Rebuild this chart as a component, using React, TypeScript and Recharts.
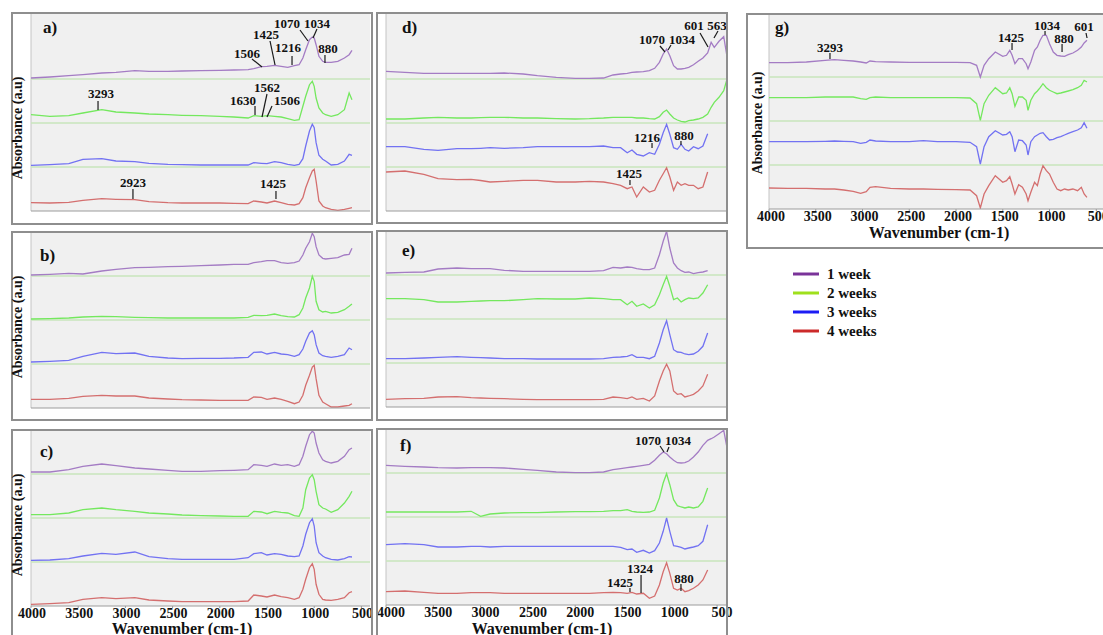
import React from 'react'
import { LineChart, Line, XAxis, YAxis, CartesianGrid, ReferenceLine, ReferenceDot } from 'recharts'

// wavenumber grids (cm-1) the spectra were read on
const WN_ABC = [4000, 3800, 3600, 3450, 3250, 3100, 2900, 2750, 2550, 2400, 2200, 2000, 1850, 1700, 1640, 1560, 1500, 1420, 1350, 1280, 1210, 1160, 1120, 1090, 1050, 1020, 1000, 980, 950, 910, 880, 820, 750, 680, 630, 600]
const WN_DEF = [4000, 3800, 3600, 3450, 3250, 3100, 3000, 2900, 2750, 2550, 2400, 2200, 2000, 1850, 1700, 1600, 1520, 1450, 1400, 1350, 1280, 1216, 1160, 1110, 1070, 1034, 1000, 960, 920, 880, 840, 800, 750, 700, 650, 600, 563, 530, 480, 430, 400]
const WN_G = [4000, 3800, 3600, 3400, 3300, 3200, 3100, 3020, 2960, 2920, 2860, 2700, 2500, 2350, 2200, 2000, 1850, 1780, 1740, 1700, 1650, 1580, 1500, 1460, 1425, 1400, 1370, 1330, 1290, 1250, 1230, 1200, 1160, 1130, 1100, 1070, 1034, 1000, 960, 920, 880, 840, 800, 750, 700, 660, 630, 600]

// absorbance (a.u.), each trace measured from the bottom of its own strip
const A_1W = [1, 2, 3.3, 4.3, 6, 6.7, 8.3, 7.7, 7.7, 8, 8.3, 8.7, 9, 9.3, 10.3, 12.3, 12.7, 13.7, 12.7, 11.7, 13.3, 14.3, 21, 29.3, 39.3, 42, 41, 34.3, 22.7, 17.7, 16.7, 16.7, 17.7, 21, 24.3, 28.7]
const A_2W = [8.3, 6.7, 7.3, 10, 13.3, 11, 10, 9, 8.3, 7.7, 7.3, 6.7, 6, 5, 7.3, 6.7, 7.3, 6.7, 6, 4.3, 2.7, 3.3, 16.7, 26.7, 38.3, 41.7, 36.7, 25, 15, 10, 8.3, 6.7, 8.3, 13.3, 30, 23.3]
const A_3W = [1.7, 2.3, 3.3, 7.7, 8.3, 6, 5.3, 3.7, 2.7, 2.3, 2, 2, 2, 2, 4.3, 3.7, 3.3, 5.3, 4.3, 2.7, 1.7, 2.7, 8.3, 21, 36, 42.7, 39.3, 24.3, 11.7, 7.7, 6, 2, 2.7, 6, 12.7, 11.7]
const A_4W = [8.3, 8, 8.7, 10.7, 12.3, 11.7, 11.3, 9.3, 8.3, 8, 8, 8, 7.7, 7.3, 10, 9, 8, 10, 8.3, 6.7, 6, 7.3, 13.3, 23.3, 33.3, 40, 41.7, 30, 10, 5, 3.3, 1.7, 0.7, 1.7, 2.7, 3.3]

const B_1W = [1, 1.7, 2.7, 2, 5, 6.7, 8.3, 8.7, 9.3, 9.7, 10.3, 11, 11.7, 11.7, 13.3, 14.3, 15.3, 15.3, 13.3, 12.7, 13.3, 15, 21, 27.7, 34.3, 42.7, 39.3, 29.3, 21, 17.7, 17, 17.7, 18.3, 21, 21.7, 27.7]
const B_2W = [1, 1.3, 2, 3, 3.7, 3.3, 2.7, 2.3, 2, 2, 2, 2, 2, 2.7, 4.7, 4.3, 4.7, 6, 4.3, 3.3, 3, 5.3, 12, 22, 32, 43.7, 38.7, 18.7, 10.3, 8, 8.7, 7, 7.7, 10.3, 13.7, 16]
const B_3W = [2, 2.7, 3.7, 7.7, 11.7, 10.3, 11, 7.7, 6, 5.3, 5.7, 5.7, 6, 6.7, 11.7, 12, 10, 11.7, 10, 9.3, 7.7, 9.3, 15, 22.7, 31, 33.3, 29.3, 19.3, 11, 8.3, 7.7, 6.7, 7.7, 9.3, 16, 14.3]
const B_4W = [8.7, 8.7, 9.7, 11.7, 12.7, 12, 12, 10, 9, 8.3, 8, 7.7, 7.7, 7.7, 11, 10.7, 8.7, 10, 8.7, 6.7, 4.3, 6, 12.7, 22.7, 32.7, 41, 42.7, 29.3, 12.7, 6, 4.3, 1, 1, 2, 2.7, 4.3]

const C_1W = [2, 2, 4.3, 7.7, 10, 8.3, 6, 5, 3.7, 2.7, 2.7, 3.3, 3.7, 4.3, 9.3, 8.7, 7.7, 10, 8.7, 9.3, 7.7, 9.3, 17.7, 27.7, 39.3, 42.7, 41, 31, 21, 14.3, 12.7, 11, 12.7, 17.7, 24.3, 26]
const C_2W = [3.3, 3.3, 5, 8.3, 10, 8.3, 6.7, 5, 4, 3, 2.3, 2, 1.7, 1.7, 6.7, 6, 4.3, 6.7, 5.7, 5, 2.3, 1.7, 10, 28.3, 40, 43.3, 38.3, 26.7, 13.3, 10, 9, 5.7, 8.3, 15, 21.7, 26.7]
const C_3W = [1.7, 2, 3.3, 6, 8.7, 7.7, 10, 5.3, 3.3, 2.7, 2.7, 2.7, 2.7, 4.3, 8.3, 9.3, 7, 8.3, 7.7, 6, 5.3, 6, 16, 27.7, 39.3, 43.3, 36, 19.3, 9.3, 6, 4.3, 2.7, 2, 3.3, 5.3, 5]
const C_4W = [1.7, 2.3, 3.3, 6.7, 8.3, 7.3, 8.3, 6, 5, 4.3, 4.3, 4.3, 4.3, 5, 11, 10, 9, 11, 9.3, 8.3, 6.7, 8.3, 16.7, 26.7, 38.3, 42.3, 36.7, 21.7, 11.7, 6.7, 6, 5.7, 6.7, 8.3, 13.3, 14.3]

const D_1W = [7.7, 6.7, 5.7, 5.7, 5.7, 5.7, 5.7, 5.7, 6, 5, 3.3, 1.7, 0.7, 0.7, 1, 4, 5, 5.7, 6.7, 7, 7.3, 8.3, 10.7, 16.7, 25, 30, 23.3, 13.3, 10, 10, 10.7, 11.7, 14.3, 17.7, 21, 26, 36.7, 31.7, 37.7, 42.3, 25]
const D_2W = [4, 4, 5, 5.7, 5, 5, 5.3, 5.7, 5.7, 5, 5, 4.3, 4, 4.3, 5, 5.7, 5.7, 5.7, 5.7, 5, 5, 4.3, 4, 6.3, 10.7, 13, 9, 5, 3, 1.7, 1, 2.3, 3, 4, 5.7, 9, 15.7, 20.7, 25.7, 32.3, 42.3]
const D_3W = [20.3, 20.3, 17.7, 16.7, 18.3, 18.3, 18.7, 19.3, 18.7, 19.3, 20.3, 20.3, 20.3, 20.3, 21, 19.3, 19.3, 14.3, 17, 12.7, 11, 14.3, 12.7, 22.7, 34.3, 42.7, 32.7, 19.3, 17.7, 22.7, 17.7, 16, 20.3, 18.3, 21, 33.3]
const D_4W = [39, 40, 36.7, 32.3, 31.3, 31.7, 30.5, 29, 29.7, 30.7, 30.7, 29, 29, 29.7, 29, 27.3, 25.7, 22.3, 24, 14, 24, 19, 20.7, 30.7, 37.3, 43.3, 34, 20.7, 29, 25.7, 27.3, 25.7, 25.7, 22.3, 24, 39]

const E_1W = [2, 2.7, 3, 6, 7, 6.3, 6.3, 6.3, 4.7, 3.7, 3.7, 3.7, 3.7, 3.7, 4.3, 7.7, 7, 8, 7.7, 6.3, 5.3, 5.3, 7, 20.3, 33.7, 43.7, 27, 12, 7, 4.3, 2.7, 3, 1.3, 2.3, 3, 4.3]
const E_2W = [20.3, 20.3, 19.3, 17, 17, 17.7, 18, 18.3, 18.3, 19.3, 20.3, 20, 20, 21, 20.3, 19.3, 19.3, 14.3, 17.7, 12.7, 15, 11, 14.3, 24.3, 34.3, 42.7, 32.7, 19.3, 21, 17, 19.3, 21, 20.3, 21, 26, 34.3]
const E_3W = [4.3, 4.3, 5, 5.7, 6.3, 5.7, 5.3, 5, 4.3, 4.3, 4, 4, 4, 4, 4.3, 5.7, 6, 6.7, 8.3, 5.7, 5.7, 4.3, 6.7, 20, 33.3, 42.3, 28.3, 13.3, 11, 10.7, 9, 8.3, 9, 11.7, 16.7, 30]
const E_4W = [7.7, 8.3, 8.7, 10, 10.3, 9.3, 9, 8.7, 8.3, 7.7, 7.3, 7.3, 7.3, 7.3, 7.7, 10, 9.3, 8.3, 10, 7.7, 8.7, 6, 11, 26, 36, 42.7, 36, 16, 12.7, 13.3, 10, 11, 12.7, 16, 21, 32.7]

const F_1W = [7.7, 6.7, 6, 5.3, 5, 5.3, 5.3, 5.3, 5, 3.7, 2.7, 1, 0.3, 0.3, 1, 3.3, 4.3, 5.3, 6, 6.7, 7.7, 8.7, 12.7, 17.7, 21, 19.3, 16, 12.7, 10.3, 10, 10.3, 12, 16, 21, 27.7, 32.7, 34.3, 36, 39.3, 42.7, 27.7]
const F_2W = [5, 5, 5, 5, 5, 5.7, 0.7, 3, 4, 4.3, 4.3, 5, 5.3, 5.3, 5.7, 6.3, 6.3, 7.3, 5.7, 5, 4.7, 5, 6.7, 19, 34, 43.3, 32.3, 17.3, 11.3, 10, 9, 10, 9, 10, 15.7, 29]
const F_3W = [16.3, 17.3, 16.3, 14, 14, 14.7, 14.7, 14, 14.7, 14.7, 14.7, 14.7, 14.7, 14.7, 14.7, 14.7, 13.7, 11.3, 12, 8.7, 10.7, 8, 10.3, 18, 29.7, 43, 29.7, 15.3, 14.7, 13.7, 12, 13, 14, 15.3, 19.7, 36.3]
const F_4W = [13.3, 14, 12.7, 11.7, 11.7, 12.3, 12.3, 12.3, 11.7, 11.7, 11.7, 11.7, 11.7, 11.7, 12.3, 12.7, 12.3, 11.7, 12.7, 11, 11.7, 6.7, 9, 20, 33.3, 42.3, 31.7, 16.7, 15, 16.7, 13.3, 14.3, 16.7, 20, 25, 35]

const G_1W = [14.3, 14.3, 15, 16.7, 17.3, 16.7, 16, 15, 14, 16, 15.3, 15, 14.7, 14.7, 14.7, 14.7, 14.3, 11.7, 0, 11.7, 18.3, 25, 20.7, 21.7, 26.7, 21.7, 13.3, 18.3, 18.3, 13.3, 8.3, 15, 26.7, 30, 36.7, 41.7, 41.7, 33.3, 25, 21.7, 21, 20.7, 22.3, 24, 26.7, 30, 34, 36.7]
const G_2W = [23.3, 23.3, 23.3, 24, 24, 24, 24, 22.3, 21.7, 23.3, 24, 23.3, 23.3, 23.3, 23.3, 23.3, 23, 17.3, 0.7, 17.3, 25.7, 33.3, 27.3, 28, 33.3, 27.3, 14.7, 24, 24, 20.7, 10.7, 20.7, 27.3, 30, 33.3, 37.3, 33.3, 30.7, 29, 27.3, 28, 29, 30, 31.3, 33.3, 35.7, 40.7, 39]
const G_3W = [23.3, 23.3, 23.3, 23.7, 24, 23.7, 23.3, 21.7, 22.7, 25, 24, 23.3, 23.3, 24.3, 23.3, 23.3, 22.7, 18.3, 1, 18.3, 28.3, 34.3, 30, 30.7, 33.3, 28.3, 13.3, 25, 24.3, 20, 10, 23.3, 28.3, 30, 31.7, 32.3, 28.3, 25, 25.7, 27.3, 28.3, 30, 31.7, 33.3, 35, 37.3, 42.3, 36.7]
const G_4W = [21, 20.7, 20.7, 20, 20, 19, 17.7, 15.7, 17.3, 21.7, 22.3, 20.7, 20, 20, 19.7, 19.3, 19, 13.3, 1, 15, 23.3, 33.3, 26.7, 28.3, 32.3, 25, 15, 24.3, 21.7, 15, 8.3, 16.7, 26.7, 23.3, 35, 43.3, 38.3, 35, 26.7, 20, 18.3, 20, 19, 20, 18.3, 21.7, 15, 11.7]

const X_TICKS = [4000, 3500, 3000, 2500, 2000, 1500, 1000, 500]
const WEEKS = ['1 week', '2 weeks', '3 weeks', '4 weeks']

// peak labels: strip (0 = top), where the leader touches (wn, a.u.), leader/text offsets in px
type Note = { s: number; wn: number; h: number; text: string; lx: number; ly: number; tx: number; ty: number }

const NOTES_A: Note[] = [
  { s: 0, wn: 1066, h: 38, text: '1070', lx: -8, ly: -11, tx: -21, ty: -13 },
  { s: 0, wn: 1013, h: 41, text: '1034', lx: 4, ly: -9, tx: 4, ty: -10 },
  { s: 0, wn: 1415, h: 14, text: '1425', lx: -5, ly: -24, tx: -9, ty: -26 },
  { s: 0, wn: 1235, h: 14, text: '1216', lx: 0, ly: -9, tx: -4, ty: -13 },
  { s: 0, wn: 1553, h: 12, text: '1506', lx: -10, ly: -8, tx: -15, ty: -9 },
  { s: 0, wn: 886, h: 16, text: '880', lx: 0, ly: -8, tx: 3, ty: -10 },
  { s: 1, wn: 3290, h: 13, text: '3293', lx: 0, ly: -9, tx: 3, ty: -12 },
  { s: 1, wn: 1627, h: 8, text: '1630', lx: 0, ly: -9, tx: -12, ty: -10 },
  { s: 1, wn: 1553, h: 6, text: '1562', lx: 5, ly: -23, tx: 5, ty: -25 },
  { s: 1, wn: 1500, h: 6, text: '1506', lx: 5, ly: -11, tx: 20, ty: -12 },
  { s: 3, wn: 2920, h: 12, text: '2923', lx: 0, ly: -10, tx: 0, ty: -12 },
  { s: 3, wn: 1405, h: 12, text: '1425', lx: 0, ly: -8, tx: -3, ty: -11 },
]
const NOTES_D: Note[] = [
  { s: 0, wn: 1051, h: 27, text: '1070', lx: -5, ly: -6, tx: -13, ty: -8 },
  { s: 0, wn: 1019, h: 29, text: '1034', lx: 3, ly: -5, tx: 14, ty: -6 },
  { s: 0, wn: 596, h: 32, text: '601', lx: -8, ly: -14, tx: -14, ty: -17 },
  { s: 0, wn: 533, h: 41, text: '563', lx: 4, ly: -7, tx: 3, ty: -8 },
  { s: 2, wn: 1188, h: 19, text: '1216', lx: 0, ly: -5, tx: -5, ty: -6 },
  { s: 2, wn: 882, h: 22, text: '880', lx: 0, ly: -4, tx: 3, ty: -5 },
  { s: 3, wn: 1421, h: 26, text: '1425', lx: 0, ly: -5, tx: -1, ty: -7 },
]
const NOTES_F: Note[] = [
  { s: 0, wn: 1061, h: 21, text: '1070', lx: -4, ly: -6, tx: -16, ty: -7 },
  { s: 0, wn: 1030, h: 21, text: '1034', lx: 2, ly: -5, tx: 11, ty: -7 },
  { s: 3, wn: 1304, h: 12, text: '1324', lx: 0, ly: -18, tx: -1, ty: -20 },
  { s: 3, wn: 1421, h: 13, text: '1425', lx: 0, ly: -4, tx: -10, ty: -5 },
  { s: 3, wn: 882, h: 14, text: '880', lx: 0, ly: -7, tx: 3, ty: -8 },
]
const NOTES_G: Note[] = [
  { s: 0, wn: 3348, h: 18, text: '3293', lx: 0, ly: -6, tx: 0, ty: -7 },
  { s: 0, wn: 1401, h: 27, text: '1425', lx: 0, ly: -7, tx: -1, ty: -8 },
  { s: 0, wn: 1048, h: 42, text: '1034', lx: 0, ly: -4, tx: 2, ty: -5 },
  { s: 0, wn: 866, h: 25, text: '880', lx: 0, ly: -8, tx: 2, ty: -9 },
  { s: 0, wn: 599, h: 39, text: '601', lx: -1, ly: -5, tx: -3, ty: -7 },
]

const SERIF = "'Liberation Serif', 'DejaVu Serif', serif"
const STRIP = 44
const TRACE_COLORS = ['#a47cc4', '#74e85e', '#7272f2', '#d46f6f']
const LEGEND_COLORS = ['#7a3399', '#9fe01c', '#1c1cf4', '#cc2a2a']

type PanelDef = {
  letter: string
  box: [number, number, number, number]
  plot: [number, number, number, number]
  end: number
  grid: number[]
  series: number[][]
  notes: Note[]
  labels: boolean
  tickDx: number
  letterAt: [number, number]
}

const PANELS: PanelDef[] = [
  { letter: 'a)', box: [11, 12, 362, 213], plot: [31, 14, 339, 197], end: 409, grid: WN_ABC, series: [A_1W, A_2W, A_3W, A_4W], notes: NOTES_A, labels: false, tickDx: 0, letterAt: [43, 33] },
  { letter: 'b)', box: [11, 231, 362, 190], plot: [31, 232, 339, 176], end: 409, grid: WN_ABC, series: [B_1W, B_2W, B_3W, B_4W], notes: [], labels: false, tickDx: 0, letterAt: [40, 261] },
  { letter: 'c)', box: [11, 429, 362, 230], plot: [31, 430, 339, 176], end: 409, grid: WN_ABC, series: [C_1W, C_2W, C_3W, C_4W], notes: [], labels: true, tickDx: 1, letterAt: [40, 457] },
  { letter: 'd)', box: [376, 12, 352, 212], plot: [386, 14, 340, 197], end: 406, grid: WN_DEF, series: [D_1W, D_2W, D_3W, D_4W], notes: NOTES_D, labels: false, tickDx: 0, letterAt: [402, 33] },
  { letter: 'e)', box: [376, 230, 352, 191], plot: [386, 231, 340, 176], end: 406, grid: WN_DEF, series: [E_1W, E_2W, E_3W, E_4W], notes: [], labels: false, tickDx: 0, letterAt: [402, 256] },
  { letter: 'f)', box: [376, 428, 352, 230], plot: [386, 429, 340, 176], end: 406, grid: WN_DEF, series: [F_1W, F_2W, F_3W, F_4W], notes: NOTES_F, labels: true, tickDx: 5, letterAt: [400, 451] },
  { letter: 'g)', box: [746, 13, 370, 236], plot: [769, 14, 340, 195], end: 364, grid: WN_G, series: [G_1W, G_2W, G_3W, G_4W], notes: NOTES_G, labels: true, tickDx: 2, letterAt: [775, 33] },
]

function Callout({ cx, cy, n }: { cx: number; cy: number; n: Note }) {
  return (
    <g>
      <line x1={cx} y1={cy} x2={cx + n.lx} y2={cy + n.ly} stroke="#1a1a1a" strokeWidth={1.2} />
      <text x={cx + n.tx} y={cy + n.ty} textAnchor="middle" fontFamily={SERIF} fontWeight={700} fontSize={13} fill="#111">
        {n.text}
      </text>
    </g>
  )
}

function Panel({ p }: { p: PanelDef }) {
  const [px, py, pw, ph] = p.plot
  const axisH = p.labels ? 34 : 6
  const ML = 22
  const MR = 12
  const traces = p.series.map((vals, k) => vals.map((v, i) => ({ wn: p.grid[i], v: v + (3 - k) * STRIP })))
  return (
    <div style={{ position: 'absolute', left: px - ML, top: py }}>
      <LineChart width={pw + ML + MR} height={ph + axisH} margin={{ top: 0, right: MR, bottom: 0, left: ML }}>
        <CartesianGrid horizontal={false} vertical={false} fill="#f0f0f0" stroke="none" />
        <XAxis
          type="number" dataKey="wn" domain={[p.end, 4000]} reversed allowDataOverflow
          ticks={X_TICKS} interval={0} height={axisH} tickSize={2} tickMargin={0}
          axisLine={{ stroke: '#9c9c9c' }} tickLine={{ stroke: '#9c9c9c' }}
          tick={p.labels ? { fill: '#111', fontSize: 14, fontWeight: 700, fontFamily: SERIF, dx: p.tickDx } : false}
        />
        <YAxis hide domain={[0, ph]} allowDataOverflow />
        <ReferenceLine x={4000} stroke="#c4c4c4" />
        {[1, 2, 3].map(k => (
          <ReferenceLine key={k} y={k * STRIP} stroke="#c8e6bc" strokeWidth={1.5} />
        ))}
        {traces.map((d, k) => (
          <Line key={k} data={d} dataKey="v" type="linear" stroke={TRACE_COLORS[k]} strokeWidth={1.3}
            dot={false} activeDot={false} isAnimationActive={false} />
        ))}
        {p.notes.map((n, i) => (
          <ReferenceDot key={i} x={n.wn} y={n.h + (3 - n.s) * STRIP} r={0}
            shape={(props: any) => <Callout cx={props.cx} cy={props.cy} n={n} />} />
        ))}
      </LineChart>
    </div>
  )
}

export default function App() {
  const txt = { fontFamily: SERIF, fontWeight: 700, fill: '#111' } as const
  return (
    <div style={{ position: 'absolute', left: 0, top: 0, width: 1103, height: 635, overflow: 'hidden', background: '#fff' }}>
      {PANELS.map(p => <Panel key={p.letter} p={p} />)}
      {PANELS.map(p => (
        <div key={'b' + p.letter} style={{
          position: 'absolute', left: p.box[0], top: p.box[1], width: p.box[2], height: p.box[3],
          border: '2px solid #8e8e8e', boxSizing: 'border-box', pointerEvents: 'none',
        }} />
      ))}
      <svg width={1103} height={635} style={{ position: 'absolute', left: 0, top: 0, pointerEvents: 'none' }}>
        {PANELS.map(p => (
          <text key={p.letter} x={p.letterAt[0]} y={p.letterAt[1]} fontSize={17} {...txt}>{p.letter}</text>
        ))}
        {[[17, 128], [17, 327], [17, 525], [757, 123]].map(([cx, cy], i) => (
          <text key={i} transform={`translate(${cx},${cy}) rotate(-90)`} textAnchor="middle" dominantBaseline="central" fontSize={14} {...txt}>
            Absorbance (a.u)
          </text>
        ))}
        {[[182, 634], [542, 634], [939, 238]].map(([cx, y], i) => (
          <text key={i} x={cx} y={y} textAnchor="middle" fontSize={16} {...txt}>Wavenumber (cm-1)</text>
        ))}
        {WEEKS.map((w, i) => (
          <g key={w}>
            <line x1={793} x2={819} y1={274 + i * 19} y2={274 + i * 19} stroke={LEGEND_COLORS[i]} strokeWidth={3} />
            <text x={827} y={279 + i * 19} fontSize={15} {...txt}>{w}</text>
          </g>
        ))}
      </svg>
    </div>
  )
}
